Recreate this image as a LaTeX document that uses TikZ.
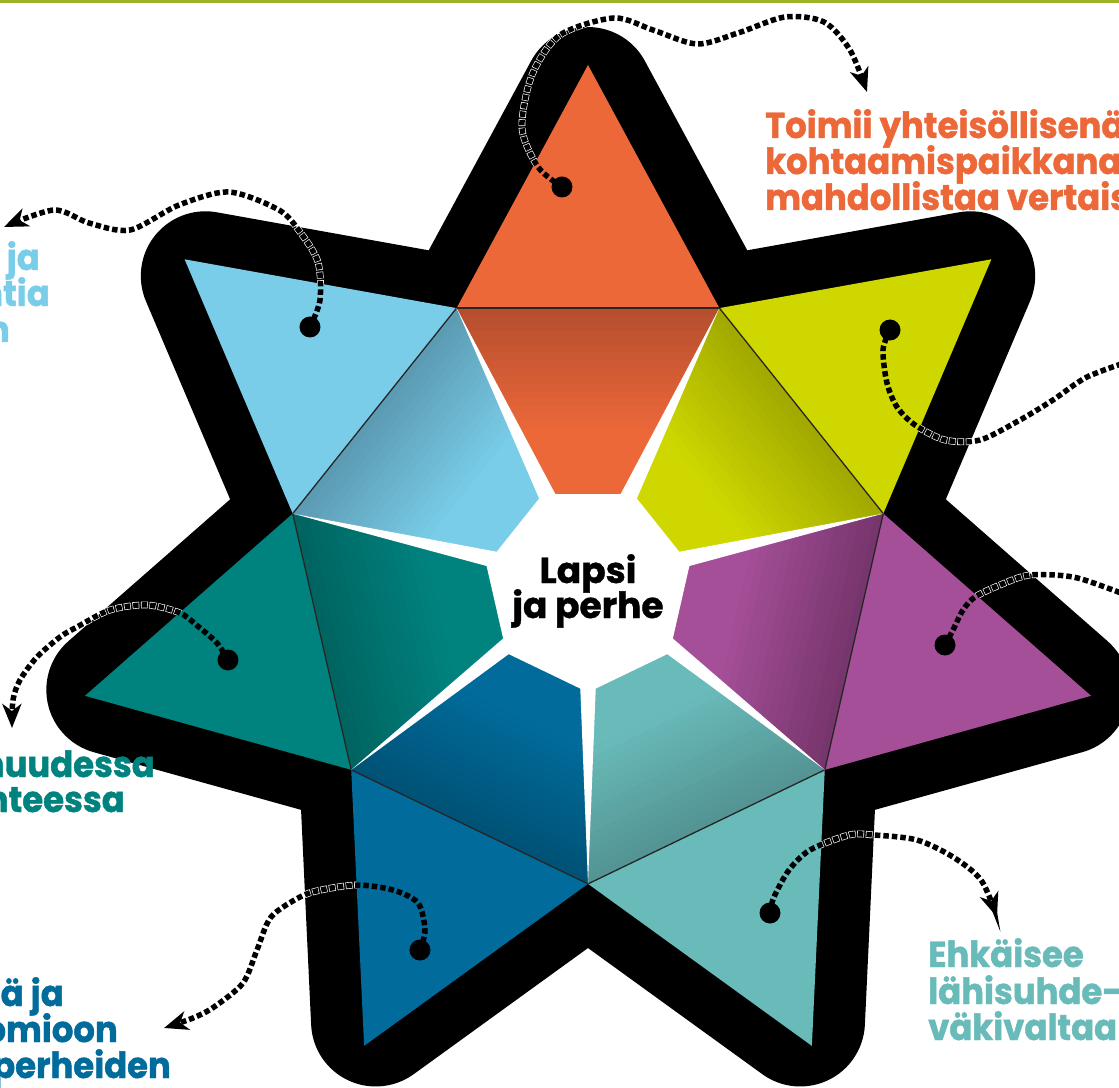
\documentclass[tikz,border=0pt]{standalone}
\usepackage{fontspec}
\newfontfamily\popfont{Poppins}[BoldFeatures={FakeStretch=0.94,FakeBold=1.2}]
\newfontfamily\popcentre{Poppins}[BoldFeatures={FakeBold=1.0}]
\usetikzlibrary{arrows.meta,calc}

\definecolor{cOrange}{HTML}{EC6839}
\definecolor{cOrangeD}{HTML}{B64E2E}
\definecolor{cLBlue}{HTML}{79CDE8}
\definecolor{cLBlueD}{HTML}{5C9BB4}
\definecolor{cYellow}{HTML}{CED800}
\definecolor{cYellowD}{HTML}{A2A900}
\definecolor{cTeal}{HTML}{00837F}
\definecolor{cTealD}{HTML}{006461}
\definecolor{cPurple}{HTML}{A54F98}
\definecolor{cPurpleD}{HTML}{77356D}
\definecolor{cBlue}{HTML}{016C9C}
\definecolor{cBlueD}{HTML}{005276}
\definecolor{cLTeal}{HTML}{69BBBA}
\definecolor{cLTealD}{HTML}{549494}
\definecolor{cTopLine}{HTML}{9BB526}

\begin{document}
\begin{tikzpicture}[x=1pt,y=1pt,
  dotnode/.style={circle,fill=black,inner sep=0pt,minimum size=21pt},
  halo/.style={white,line width=6.8pt,dash pattern=on 6.8pt off 1.7pt,dash phase=0.65pt},
  conn/.style={black,line width=5.5pt,dash pattern=on 5.5pt off 3pt},
  tipped/.style={-{Stealth[length=24pt,width=19pt,inset=7pt]}},
  lbl/.style={inner sep=0pt,font=\popfont\bfseries\fontsize{36pt}{36pt}\selectfont},
  lblW/.style={lbl,anchor=base west},
  lblE/.style={lbl,anchor=base east},
  lblC/.style={inner sep=0pt,anchor=base,font=\popcentre\bfseries\fontsize{36pt}{36pt}\selectfont}
]
\useasboundingbox (-588,-506) rectangle (531,581);
\clip (-588,-506) rectangle (531,581);
\fill[white] (-588,-506) rectangle (531,581);
\fill[cTopLine] (-588,577.5) rectangle (531,581);

% black silhouette
\foreach \k in {0,...,6}{
  \fill[black,rotate=\k*360/7] (0,0) -- (229.9,200) -- (56.9,520)
     arc[start angle=28.39,end angle=151.61,radius=64.7] -- (-229.9,200) -- cycle;
}

% connector way points
\coordinate (d1) at (-26,394);
\coordinate (c1a) at (-50,414);
\coordinate (c1b) at (-66,453);
\coordinate (c1c) at (-56,506);
\coordinate (c1d) at (-28,546);
\coordinate (c1e) at (26,563);
\coordinate (c1f) at (65,551);
\coordinate (c1g) at (109,537);
\coordinate (c1h) at (150,548);
\coordinate (c1i) at (197,564);
\coordinate (c1j) at (236,559);
\coordinate (c1k) at (262,531);
\coordinate (e1) at (279,489);

\coordinate (d2) at (-278,254);
\coordinate (c2a) at (-268,281);
\coordinate (c2b) at (-270,319);
\coordinate (c2c) at (-288,349);
\coordinate (c2d) at (-309,371);
\coordinate (c2e) at (-359,389);
\coordinate (c2f) at (-409,376);
\coordinate (c2g) at (-458,351);
\coordinate (c2h) at (-499,358);
\coordinate (c2i) at (-534,371);
\coordinate (e2) at (-584,354);

\coordinate (d3) at (302,251);
\coordinate (c3a) at (295,231);
\coordinate (c3b) at (299,198);
\coordinate (c3c) at (309,174);
\coordinate (c3d) at (327,156);
\coordinate (c3e) at (357,141);
\coordinate (c3f) at (392,141);
\coordinate (c3g) at (432,161);
\coordinate (c3h) at (465,181);
\coordinate (c3i) at (499,204);
\coordinate (e3) at (545,221);

\coordinate (d4) at (357,-64);
\coordinate (c4a) at (365,-49);
\coordinate (c4b) at (375,-29);
\coordinate (c4c) at (387,-16);
\coordinate (c4d) at (412,-4);
\coordinate (c4e) at (442,6);
\coordinate (c4f) at (485,4);
\coordinate (c4g) at (525,-9);
\coordinate (e4) at (545,-17);

\coordinate (d5) at (182,-332);
\coordinate (c5a) at (186,-316);
\coordinate (c5b) at (201,-289);
\coordinate (c5c) at (222,-269);
\coordinate (c5d) at (261,-254);
\coordinate (c5e) at (286,-254);
\coordinate (c5f) at (329,-259);
\coordinate (c5g) at (365,-276);
\coordinate (c5h) at (393,-299);
\coordinate (e5) at (409,-336);

\coordinate (d6) at (-168,-369);
\coordinate (c6a) at (-163,-349);
\coordinate (c6b) at (-170,-322);
\coordinate (c6c) at (-195,-309);
\coordinate (c6d) at (-231,-304);
\coordinate (c6e) at (-267,-309);
\coordinate (c6f) at (-288,-316);
\coordinate (c6g) at (-317,-336);
\coordinate (c6h) at (-331,-369);
\coordinate (c6i) at (-345,-402);
\coordinate (c6j) at (-374,-426);
\coordinate (c6k) at (-395,-437);
\coordinate (e6) at (-424,-447);

\coordinate (d7) at (-360,-79);
\coordinate (c7a) at (-371,-62);
\coordinate (c7b) at (-388,-47);
\coordinate (c7c) at (-408,-32);
\coordinate (c7d) at (-441,-24);
\coordinate (c7e) at (-478,-29);
\coordinate (c7f) at (-511,-46);
\coordinate (c7g) at (-528,-56);
\coordinate (c7h) at (-551,-76);
\coordinate (c7i) at (-568,-99);
\coordinate (c7j) at (-575,-119);
\coordinate (e7) at (-576,-147);

% thin white halos (visible only over the black border)
\draw[halo] plot[smooth] coordinates {(d1) (c1a) (c1b) (c1c) (c1d) (c1e) (c1f) (c1g) (c1h) (c1i) (c1j) (c1k) (e1)};
\draw[halo] plot[smooth] coordinates {(d2) (c2a) (c2b) (c2c) (c2d) (c2e) (c2f) (c2g) (c2h) (c2i) (e2)};
\draw[halo] plot[smooth] coordinates {(d3) (c3a) (c3b) (c3c) (c3d) (c3e) (c3f) (c3g) (c3h) (c3i) (e3)};
\draw[halo] plot[smooth] coordinates {(d4) (c4a) (c4b) (c4c) (c4d) (c4e) (c4f) (c4g) (e4)};
\draw[halo] plot[smooth] coordinates {(d5) (c5a) (c5b) (c5c) (c5d) (c5e) (c5f) (c5g) (c5h) (e5)};
\draw[halo] plot[smooth] coordinates {(d6) (c6a) (c6b) (c6c) (c6d) (c6e) (c6f) (c6g) (c6h) (c6i) (c6j) (c6k) (e6)};
\draw[halo] plot[smooth] coordinates {(d7) (c7a) (c7b) (c7c) (c7d) (c7e) (c7f) (c7g) (c7h) (c7i) (c7j) (e7)};

% outer triangles
\foreach \k/\bs in {0/cOrange,1/cLBlue,2/cTeal,3/cBlue,4/cLTeal,5/cPurple,6/cYellow}{
  \fill[fill=\bs,rotate=\k*360/7] (0,516) -- (131.4,272.9) -- (-131.4,272.9) -- cycle;
}

% inner shaded pieces
\foreach \k/\bs/\dk in {0/cOrange/cOrangeD,1/cLBlue/cLBlueD,2/cTeal/cTealD,3/cBlue/cBlueD,4/cLTeal/cLTealD,5/cPurple/cPurpleD,6/cYellow/cYellowD}{
  \begin{scope}[rotate=\k*360/7]
    \fill[fill=\bs] (0,0) -- (131.4,272.9) -- (-131.4,272.9) -- cycle;
    \foreach \i in {0,...,15}{
      \pgfmathsetmacro{\ya}{272.9-\i*7.5}
      \pgfmathsetmacro{\yb}{\ya-8.5}
      \pgfmathsetmacro{\pp}{100-\i*100/16}
      \fill[fill=\dk!\pp!\bs] ({-0.4815*\ya},\ya) -- ({0.4815*\ya},\ya) -- ({0.4815*\yb},\yb) -- ({-0.4815*\yb},\yb) -- cycle;
    }
  \end{scope}
}

% heptagon edges and white gaps
\foreach \k in {0,...,6}{
  \begin{scope}[rotate=\k*360/7]
    \draw[line width=1.3pt,black!85] (131.4,272.9) -- (-131.4,272.9);
    \fill[white] (131.4,272.9) -- (-10.8,5.2) -- (10.8,-5.2) -- cycle;
  \end{scope}
}
\fill[white,shift={(0,-7)}] (270:104.3) -- (321.43:104.3) -- (12.86:104.3) -- (64.29:104.3)
   -- (115.71:104.3) -- (167.14:104.3) -- (218.57:104.3) -- cycle;

% dotted connectors
\draw[conn,tipped] plot[smooth] coordinates {(d1) (c1a) (c1b) (c1c) (c1d) (c1e) (c1f) (c1g) (c1h) (c1i) (c1j) (c1k) (e1)};
\draw[conn,tipped] plot[smooth] coordinates {(d2) (c2a) (c2b) (c2c) (c2d) (c2e) (c2f) (c2g) (c2h) (c2i) (e2)};
\draw[conn] plot[smooth] coordinates {(d3) (c3a) (c3b) (c3c) (c3d) (c3e) (c3f) (c3g) (c3h) (c3i) (e3)};
\draw[conn] plot[smooth] coordinates {(d4) (c4a) (c4b) (c4c) (c4d) (c4e) (c4f) (c4g) (e4)};
\draw[conn,tipped] plot[smooth] coordinates {(d5) (c5a) (c5b) (c5c) (c5d) (c5e) (c5f) (c5g) (c5h) (e5)};
\draw[conn,tipped] plot[smooth] coordinates {(d6) (c6a) (c6b) (c6c) (c6d) (c6e) (c6f) (c6g) (c6h) (c6i) (c6j) (c6k) (e6)};
\draw[conn,tipped] plot[smooth] coordinates {(d7) (c7a) (c7b) (c7c) (c7d) (c7e) (c7f) (c7g) (c7h) (c7i) (c7j) (e7)};

% dots
\node[dotnode] (dot1) at (d1) {};
\node[dotnode] (dot2) at (d2) {};
\node[dotnode] (dot3) at (d3) {};
\node[dotnode] (dot4) at (d4) {};
\node[dotnode] (dot5) at (d5) {};
\node[dotnode] (dot6) at (d6) {};
\node[dotnode] (dot7) at (d7) {};

% centre text
\node[lblC] (c1) at (0,-2) {Lapsi};
\node[lblC] (c2) at (0,-37) {ja perhe};

% labels
\node[lblW,text=cOrange] (o1) at (177,443) {Toimii yhteisöllisenä};
\node[lblW,text=cOrange] (o2) at (177,407) {kohtaamispaikkana};
\node[lblW,text=cOrange] (o3) at (177,371) {mahdollistaa vertais};

\node[lblE,text=cLBlue] (b1) at (-548,311) {ja};
\node[lblE,text=cLBlue] (b2) at (-538,275) {ntia};
\node[lblE,text=cLBlue] (b3) at (-578,239) {n};

\node[lblE,text=cTeal] (t1) at (-433,-196) {huudessa};
\node[lblE,text=cTeal] (t2) at (-463,-231) {nteessa};

\node[lblE,text=cBlue] (u1) at (-524,-425) {ä ja};
\node[lblE,text=cBlue] (u2) at (-470,-461) {omioon};
\node[lblE,text=cBlue] (u3) at (-417,-497) {perheiden};

\node[lblW,text=cLTeal] (l1) at (340,-386) {Ehkäisee};
\node[lblW,text=cLTeal] (l2) at (340,-423) {lähisuhde-};
\node[lblW,text=cLTeal] (l3) at (340,-459) {väkivaltaa};
\end{tikzpicture}
\end{document}
